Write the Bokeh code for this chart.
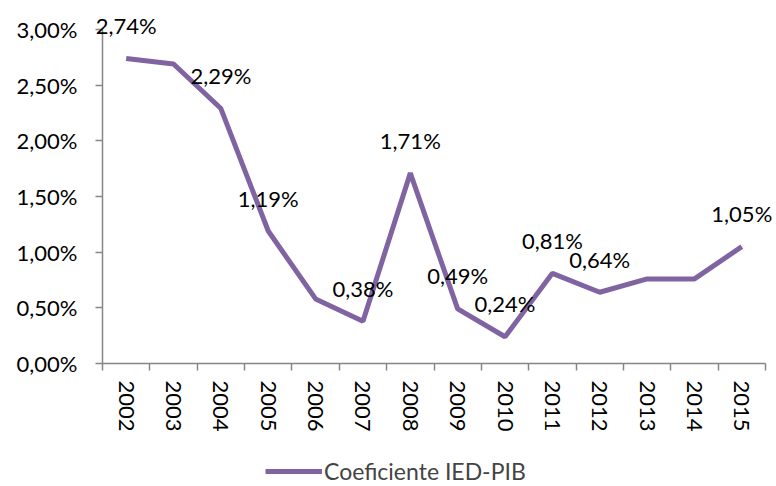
from bokeh.plotting import figure
from bokeh.models import (ColumnDataSource, FixedTicker, CustomJSTickFormatter,
                          LabelSet, Legend, LegendItem, Range1d)
from bokeh.core.properties import value
from bokeh.embed import file_html
from bokeh.resources import INLINE

years = ["2002", "2003", "2004", "2005", "2006", "2007", "2008",
         "2009", "2010", "2011", "2012", "2013", "2014", "2015"]
values = [0.0274, 0.0269, 0.0229, 0.0119, 0.0058, 0.0038, 0.0171,
          0.0049, 0.0024, 0.0081, 0.0064, 0.0076, 0.0076, 0.0105]
labelled = [True, False, True, True, False, True, True,
            True, True, True, True, False, False, True]
y_ticks = [0.0, 0.005, 0.01, 0.015, 0.02, 0.025, 0.03]

FONT = "Lato"
FS = "22px"
COLOR = "#8064A2"
AXIS = "#868686"

# layout (pixels)
W, H = 776, 486
AX_LEFT, AX_RIGHT = 102, 765      # axis extent
Y_TOP_TICK, Y_ZERO = 29, 363      # pixel of 3% and 0%

n = len(years)
cat_w = (AX_RIGHT - AX_LEFT) / n
x_start = -0.5 - AX_LEFT / cat_w
x_end = (n - 0.5) + (W - AX_RIGHT) / cat_w
per_px = y_ticks[-1] / (Y_ZERO - Y_TOP_TICK)
y_top = per_px * Y_ZERO
y_bot = -per_px * (H - Y_ZERO)

xs = list(range(n))
src = ColumnDataSource(dict(x=xs, y=values))
lab_x = [x for x, f in zip(xs, labelled) if f]
lab_y = [v for v, f in zip(values, labelled) if f]
lab_t = [("%.2f" % (v * 100)).replace(".", ",") + "%" for v in lab_y]
lab_src = ColumnDataSource(dict(x=lab_x, y=lab_y, t=lab_t))

p = figure(width=W, height=H, output_backend="svg", toolbar_location=None,
           x_range=Range1d(x_start, x_end), y_range=Range1d(y_bot, y_top),
           min_border_left=0, min_border_right=0,
           min_border_top=0, min_border_bottom=0)
p.outline_line_color = None
p.xgrid.visible = False
p.ygrid.visible = False

r = p.line("x", "y", source=src, line_color=COLOR, line_width=5)

p.add_layout(LabelSet(x="x", y="y", text="t", source=lab_src,
                      text_align="center", text_baseline="middle",
                      y_offset=33, text_font=value(FONT), text_font_size=FS,
                      text_color="black"))

# x axis, pinned at y = 0
xa = p.xaxis[0]
xa.fixed_location = 0
xa.bounds = (-0.5, n - 0.5)
xa.ticker = FixedTicker(ticks=xs, minor_ticks=[i - 0.5 for i in range(n + 1)])
xa.major_label_overrides = {i: y for i, y in enumerate(years)}
xa.major_label_orientation = "vertical"
xa.major_tick_line_color = None
xa.major_tick_out = 6
xa.major_tick_in = 0
xa.minor_tick_line_color = AXIS
xa.minor_tick_out = 7
xa.minor_tick_in = 0
xa.axis_line_color = AXIS
xa.axis_line_width = 1.5
xa.minor_tick_line_width = 1.5
xa.major_label_standoff = 10
xa.major_label_text_font = FONT
xa.major_label_text_font_size = FS
xa.major_label_text_color = "black"

# y axis, pinned at the left edge of the first category
ya = p.yaxis[0]
ya.fixed_location = -0.5
ya.bounds = (0, y_ticks[-1])
ya.ticker = FixedTicker(ticks=y_ticks, minor_ticks=[])
ya.formatter = CustomJSTickFormatter(code="return (tick*100).toFixed(2).replace('.', ',') + '%';")
ya.major_tick_line_color = AXIS
ya.major_tick_out = 7
ya.major_tick_in = 0
ya.major_tick_line_width = 1.5
ya.axis_line_color = AXIS
ya.axis_line_width = 1.5
ya.major_label_standoff = 18
ya.major_label_text_font = FONT
ya.major_label_text_font_size = FS
ya.major_label_text_color = "black"

legend = Legend(items=[LegendItem(label="Coeficiente IED-PIB", renderers=[r])],
                location=(265, 1), orientation="horizontal",
                background_fill_alpha=0, border_line_color=None,
                label_text_font=FONT, label_text_font_size="23px",
                glyph_width=57, glyph_height=20, label_standoff=2,
                padding=0, margin=0)
p.add_layout(legend)

open("out.html", "w").write(file_html(p, INLINE))
